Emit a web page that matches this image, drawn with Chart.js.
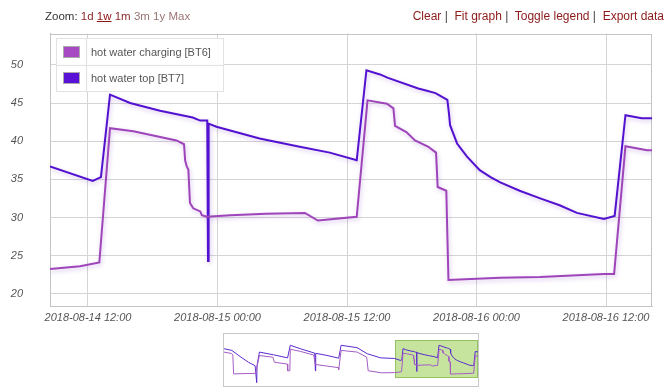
<!DOCTYPE html>
<html><head><meta charset="utf-8">
<script src="https://cdn.jsdelivr.net/npm/chart.js@4/dist/chart.umd.min.js"></script>
<style>
html,body{margin:0;padding:0;background:#fff;}
body{width:666px;height:387px;position:relative;overflow:hidden;font-family:"Liberation Sans",Arial,sans-serif;}
#main{position:absolute;left:0;top:0;}
#mini{position:absolute;left:223px;top:333px;}
.hdr{position:absolute;top:9px;line-height:14px;white-space:pre;}
#hdrL{left:45px;color:#333;font-size:11.5px;}
#hdrR{right:2px;color:#444;font-size:12px;}
.a1{color:#8b2a2a;}
.aw{color:#8b1010;text-decoration:underline;}
.a2{color:#9a7474;}
.ar{color:#8b1a1a;}
#legend{position:absolute;left:56px;top:38px;width:166px;height:52px;border:1px solid #e2e2e2;background:rgba(255,255,255,0.92);font-size:11px;color:#555;}
.row{position:absolute;left:0;width:166px;height:26px;}
.row1{top:0;border-bottom:1px solid #e2e2e2;}
.row2{top:26px;}
.sw{position:absolute;left:6px;top:7px;width:15px;height:10px;border:1px solid #aaa;}
.sep{position:absolute;left:29px;top:0;height:52px;border-left:1px solid #e2e2e2;}
.lt{position:absolute;left:34px;top:6px;line-height:14px;}
</style>
</head><body>
<canvas id="main" width="666" height="387"></canvas>
<canvas id="mini" width="256" height="54"></canvas>
<div class="hdr" id="hdrL">Zoom: <span class="a1">1d</span> <span class="aw">1w</span> <span class="a1">1m</span> <span class="a2">3m</span> <span class="a2">1y</span> <span class="a2">Max</span></div>
<div class="hdr" id="hdrR"><span class="ar">Clear</span> |  <span class="ar">Fit graph</span> |  <span class="ar">Toggle legend</span> |  <span class="ar">Export data</span></div>
<div id="legend">
  <div class="row row1"><div class="sw" style="background:#a649c2"></div><div class="lt">hot water charging [BT6]</div></div>
  <div class="row row2"><div class="sw" style="background:#5a12d6"></div><div class="lt">hot water top [BT7]</div></div>
  <div class="sep"></div>
</div>
<script>
// Hours counted from 2018-08-14 00:00
const seriesNames = ['hot water charging [BT6]', 'hot water top [BT7]'];
const hoursBT7 = [8.48,12.44,13.2,14.04,15.9,18.67,21.7,22.4,23.05,23.12,23.18,23.9,27.9,31.5,34.4,36.9,37.8,39.06,39.8,42.6,43.4,44.2,45.3,45.45,45.55,46.2,47.1,48.3,49.3,50.2,52.0,53.9,55.7,57.3,59.8,60.8,61.8,63.3,64.26];
const valuesBT7 = [36.7,34.8,35.3,46.1,45.0,44.0,43.1,42.7,42.7,24.3,42.3,41.9,40.35,39.3,38.5,37.5,49.3,48.75,48.3,46.9,46.6,46.3,45.4,43.6,42.1,39.7,38.0,36.2,35.3,34.6,33.5,32.5,31.6,30.6,29.8,30.2,43.4,43.0,43.0];
const hoursBT6 = [8.48,11.26,13.05,14.04,16.2,20.2,20.9,21.0,21.15,21.3,21.45,21.75,22.4,22.55,23.0,25.2,28.5,32.1,33.3,36.9,37.9,39.7,40.3,40.45,41.5,42.3,43.5,44.25,44.4,45.2,45.4,50.2,53.9,59.8,60.75,61.8,63.8,64.26];
const valuesBT6 = [23.25,23.6,24.1,41.7,41.3,40.1,39.6,37.5,36.7,36.3,31.9,31.2,30.8,30.3,30.1,30.3,30.5,30.6,29.6,30.1,45.35,44.9,44.3,42.0,41.2,40.1,39.3,38.5,34.0,33.5,21.8,22.1,22.2,22.6,22.6,39.35,38.8,38.8];
// Earlier part of the week, shown only in the overview strip
const earlyHoursBT7 = [-104.3,-99.2,-93.7,-88.2,-83.8,-82.7,-82.5,-80.9,-71.6,-62.3,-60.5,-53.9,-44.4,-43.9,-43.7,-36.2,-28.5,-26.9,-16.3,-9.6,-0.8];
const earlyValuesBT7 = [46.0,44.4,38.6,33.1,29.8,13.6,30.0,42.8,40.2,37.3,49.3,46.0,41.8,24.9,41.6,39.6,37.0,49.3,47.0,41.2,37.3];
const earlyHoursBT6 = [-104.3,-99.5,-98.5,-98.0,-83.5,-80.9,-72.0,-71.0,-62.5,-62.2,-60.8,-60.5,-53.9,-45.0,-44.0,-28.8,-28.5,-26.9,-16.3,-10.0,-9.0,0.0];
const earlyValuesBT6 = [42.8,41.5,40.5,22.0,22.5,39.5,37.9,33.1,31.4,24.9,25.0,45.5,43.5,40.0,31.0,28.0,26.0,44.4,42.8,38.0,25.0,23.0];
const xTicks = [12, 24, 36, 48, 60];
const xTickLabels = ['2018-08-14 12:00', '2018-08-15 00:00', '2018-08-15 12:00', '2018-08-16 00:00', '2018-08-16 12:00'];
const yTicks = [20, 25, 30, 35, 40, 45, 50];
const viewStart = 8.48, viewEnd = 64.26;
const weekStart = -105;

const colBT6 = '#9f45ba', colBT7 = '#5312cf';
const pts = (xs, ys) => xs.map((x, i) => ({x: x, y: ys[i]}));

const tickFont = {family: '"Liberation Sans", Arial, sans-serif', size: 11, style: 'italic'};

const shadowPlugin = {
  id: 'shadow',
  beforeDatasetDraw(chart) {
    const c = chart.ctx; c.save();
    c.shadowColor = 'rgba(140,80,200,0.35)'; c.shadowBlur = 4; c.shadowOffsetX = 1; c.shadowOffsetY = 2;
  },
  afterDatasetDraw(chart) { chart.ctx.restore(); }
};
const frameMain = {
  id: 'frameMain',
  beforeDatasetsDraw(chart) {
    const a = chart.chartArea, c = chart.ctx;
    c.save(); c.strokeStyle = '#c4c4c4'; c.lineWidth = 1;
    c.strokeRect(Math.round(a.left) + 0.5, Math.round(a.top) + 0.5, Math.round(a.right - a.left) - 1, Math.round(a.bottom - a.top));
    c.restore();
  }
};

new Chart(document.getElementById('main'), {
  type: 'line',
  data: {datasets: [
    {label: seriesNames[0], data: pts(hoursBT6, valuesBT6), borderColor: colBT6, borderWidth: 2, pointRadius: 0, tension: 0, fill: false},
    {label: seriesNames[1], data: pts(hoursBT7, valuesBT7), borderColor: colBT7, borderWidth: 2, pointRadius: 0, tension: 0, fill: false}
  ]},
  options: {
    responsive: false, animation: false, devicePixelRatio: 1,
    layout: {padding: {top: 33, right: 14, left: 0, bottom: 0}},
    plugins: {legend: {display: false}, tooltip: {enabled: false}},
    scales: {
      x: {type: 'linear', min: viewStart, max: viewEnd,
        afterFit: s => { s.height = 81; },
        afterBuildTicks: s => { s.ticks = xTicks.map(v => ({value: v})); },
        grid: {color: '#d4d4d4', drawTicks: false},
        border: {color: '#c4c4c4'},
        ticks: {autoSkip: false, maxRotation: 0, padding: 5, color: '#555', font: tickFont,
          callback: (v) => { const i = xTicks.indexOf(v); return i >= 0 ? xTickLabels[i] : ''; }}
      },
      y: {min: 18.4, max: 54.1,
        afterFit: s => { s.width = 50; },
        afterBuildTicks: s => { s.ticks = yTicks.map(v => ({value: v})); },
        grid: {color: '#d4d4d4', drawTicks: false},
        border: {color: '#c4c4c4'},
        ticks: {padding: 27, color: '#555', font: tickFont}
      }
    }
  },
  plugins: [frameMain, shadowPlugin]
});

const miniPlugin = {
  id: 'miniSel',
  beforeDatasetsDraw(chart) {
    const c = chart.ctx, xs = chart.scales.x;
    const x1 = Math.round(xs.getPixelForValue(viewStart)), x2 = Math.round(xs.getPixelForValue(viewEnd));
    c.save();
    c.fillStyle = '#c6e49e'; c.fillRect(x1, 7, x2 - x1 - 1, 38);
    c.strokeStyle = '#94c262'; c.lineWidth = 1; c.strokeRect(x1 + 0.5, 7.5, x2 - x1 - 2, 37);
    c.restore();
  },
  afterDraw(chart) {
    const c = chart.ctx; c.save(); c.strokeStyle = '#c8c8c8'; c.lineWidth = 1;
    c.strokeRect(0.5, 0.5, chart.width - 1, chart.height - 1); c.restore();
  }
};
new Chart(document.getElementById('mini'), {
  type: 'line',
  data: {datasets: [
    {data: pts(earlyHoursBT6.concat(hoursBT6), earlyValuesBT6.concat(valuesBT6)), borderColor: '#a45cc4', borderWidth: 1, pointRadius: 0, tension: 0},
    {data: pts(earlyHoursBT7.concat(hoursBT7), earlyValuesBT7.concat(valuesBT7)), borderColor: '#5a2ad0', borderWidth: 1, pointRadius: 0, tension: 0}
  ]},
  options: {
    responsive: false, animation: false, devicePixelRatio: 1,
    layout: {padding: 0},
    plugins: {legend: {display: false}, tooltip: {enabled: false}},
    scales: {
      x: {type: 'linear', display: false, min: weekStart, max: viewEnd},
      y: {display: false, min: 9.5, max: 61}
    }
  },
  plugins: [miniPlugin]
});
</script>
</body></html>
